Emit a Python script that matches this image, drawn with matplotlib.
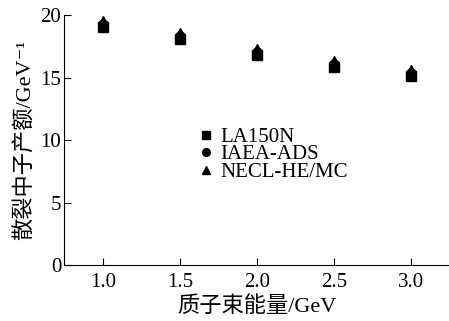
import matplotlib
matplotlib.use('Agg')
import matplotlib.pyplot as plt

energy = [1.0, 1.5, 2.0, 2.5, 3.0]
la150n = [19.05, 18.1, 16.8, 15.85, 15.15]
iaea_ads = [19.3, 18.35, 17.05, 16.1, 15.4]
necl = [19.5, 18.55, 17.3, 16.3, 15.6]

plt.rcParams['font.family'] = ['Liberation Serif', 'Noto Sans CJK SC', 'DejaVu Sans']

fig = plt.figure(figsize=(4.49, 3.21), dpi=100)
ax = fig.add_axes([0.1425, 0.1745, 0.8575, 0.7785])

ax.plot(energy, la150n, 's', color='black', markersize=6.5, label='LA150N')
ax.plot(energy, iaea_ads, 'o', color='black', markersize=6.5, label='IAEA-ADS')
ax.plot(energy, necl, '^', color='black', markersize=7, label='NECL-HE/MC')

ax.set_xlim(0.747, 3.247)
ax.set_ylim(0, 20)
ax.set_xticks(energy)
ax.set_xticklabels(['1.0', '1.5', '2.0', '2.5', '3.0'])
ax.set_yticks([0, 5, 10, 15, 20])
ax.tick_params(direction='in', length=5, labelsize=15, width=0.8)
ax.tick_params(axis='x', pad=6)
ax.tick_params(axis='y', pad=2)

ax.spines['top'].set_visible(False)
ax.spines['right'].set_visible(False)

ax.set_xlabel('质子束能量/GeV', fontsize=16, labelpad=3)
ax.set_ylabel('散裂中子产额/GeV⁻¹', fontsize=16, labelpad=4)

ax.legend(loc='center', bbox_to_anchor=(0.542, 0.442), frameon=False, fontsize=15,
          handlelength=0.8, handletextpad=0.3, labelspacing=-0.1, markerscale=0.85)

fig.savefig('out.png', dpi=100)
